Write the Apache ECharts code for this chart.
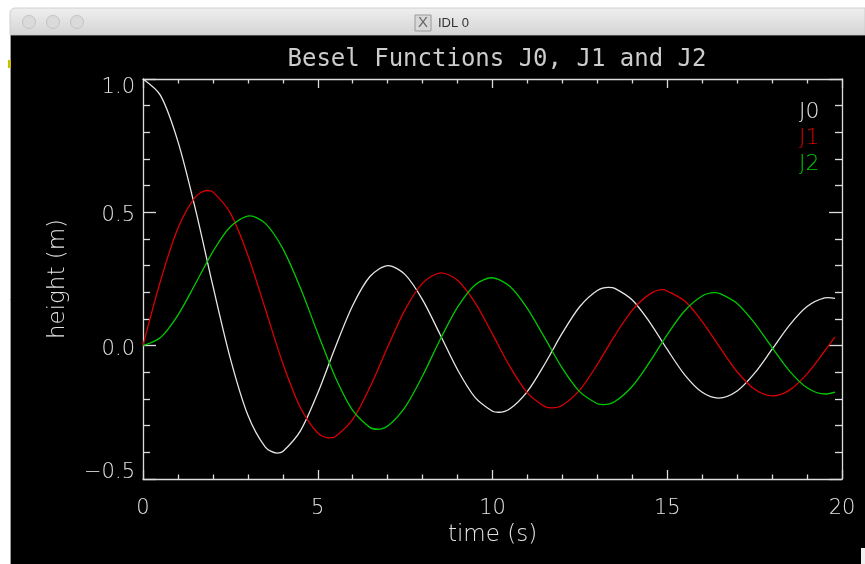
<!DOCTYPE html>
<html>
<head>
<meta charset="utf-8">
<script src="https://cdn.jsdelivr.net/npm/echarts@6/dist/echarts.min.js"></script>
<style>
  html, body { margin: 0; padding: 0; background: #ffffff; }
  #chart { width: 865px; height: 564px; }
</style>
</head>
<body>
<div id="chart"></div>
<script>
// ---- data ----
var times = [0, 0.5, 1, 1.5, 2, 2.5, 3, 3.5, 4, 4.5, 5, 5.5, 6, 6.5, 7, 7.5, 8, 8.5, 9, 9.5,
             10, 10.5, 11, 11.5, 12, 12.5, 13, 13.5, 14, 14.5, 15, 15.5, 16, 16.5, 17, 17.5, 18, 18.5, 19, 19.5, 19.8];
var j0 = [1.0, 0.9385, 0.7652, 0.5118, 0.2239, -0.0484, -0.2601, -0.3801, -0.3971, -0.3205,
          -0.1776, -0.0068, 0.1506, 0.2601, 0.3001, 0.2663, 0.1717, 0.0419, -0.0903, -0.1939,
          -0.2459, -0.2366, -0.1712, -0.0677, 0.0477, 0.1469, 0.2069, 0.2150, 0.1711, 0.0875,
          -0.0142, -0.1092, -0.1749, -0.1964, -0.1699, -0.1032, -0.0134, 0.0772, 0.1466, 0.1789, 0.1771];
var j1 = [0.0, 0.2423, 0.4401, 0.5579, 0.5767, 0.4971, 0.3391, 0.1374, -0.0660, -0.2311,
          -0.3276, -0.3414, -0.2767, -0.1538, -0.0047, 0.1352, 0.2346, 0.2731, 0.2453, 0.1613,
          0.0435, -0.0789, -0.1768, -0.2284, -0.2234, -0.1655, -0.0703, 0.0380, 0.1334, 0.1934,
          0.2051, 0.1672, 0.0904, -0.0058, -0.0977, -0.1634, -0.1880, -0.1666, -0.1057, -0.0209, 0.0328];
var j2 = [0.0, 0.0306, 0.1149, 0.2321, 0.3528, 0.4461, 0.4861, 0.4586, 0.3641, 0.2178,
          0.0466, -0.1173, -0.2429, -0.3074, -0.3014, -0.2302, -0.1130, 0.0224, 0.1448, 0.2279,
          0.2546, 0.2216, 0.1390, 0.0280, -0.0849, -0.1734, -0.2177, -0.2094, -0.1520, -0.0608,
          0.0416, 0.1308, 0.1862, 0.1957, 0.1584, 0.0845, -0.0075, -0.0952, -0.1577, -0.1810, -0.1738];
// turning points (peaks / troughs) of each curve
var j0PeakT = [3.8317, 7.0156, 10.1735, 13.3237, 16.4706, 19.6159];
var j0PeakV = [-0.4028, 0.3001, -0.2497, 0.2184, -0.1965, 0.1801];
var j1PeakT = [1.8412, 5.3314, 8.5363, 11.7060, 14.8636, 18.0155];
var j1PeakV = [0.5819, -0.3461, 0.2733, -0.2333, 0.2101, -0.1880];
var j2PeakT = [3.0542, 6.7061, 9.9695, 13.1704, 16.3475, 19.5129];
var j2PeakV = [0.4865, -0.3135, 0.2547, -0.2209, 0.1990, -0.1813];

var seriesNames = ['J0', 'J1', 'J2'];
var xTickValues = [0, 5, 10, 15, 20];
var xTickLabels = ['0', '5', '10', '15', '20'];
var yTickValues = [-0.5, 0, 0.5, 1.0];
var yTickLabels = ['\u22120.5', '0.0', '0.5', '1.0'];
var titleText = 'Besel Functions J0, J1 and J2';
var xName = 'time (s)';
var yName = 'height (m)';
var windowTitle = 'IDL 0';

// ---- styling ----
var FONT = 'DejaVu Sans';
var AXIS_COLOR = '#dcdcdc';
var TEXT_COLOR = '#e2e2e2';
var colors = ['#e6e6e6', '#d80000', '#00c800'];

function buildPoints(vals, pt, pv) {
  var pts = [];
  for (var i = 0; i < times.length; i++) {
    var near = false;
    for (var k = 0; k < pt.length; k++) if (Math.abs(pt[k] - times[i]) < 0.06) near = true;
    if (!near) pts.push([times[i], vals[i]]);
  }
  for (var k2 = 0; k2 < pt.length; k2++) pts.push([pt[k2], pv[k2]]);
  pts.sort(function (a, b) { return a[0] - b[0]; });
  return pts;
}
function lookup(vals, labels) {
  return function (v) {
    for (var i = 0; i < vals.length; i++) {
      if (Math.abs(vals[i] - v) < 1e-9) return labels[i];
    }
    return '';
  };
}
var yLabelOf = lookup(yTickValues, yTickLabels);
function yLabelFormatter(v) {
  var s = yLabelOf(v);
  if (!s) return '';
  if (Math.abs(v - 1.0) < 1e-9) return '{hi|' + s + '}';
  if (Math.abs(v + 0.5) < 1e-9) return '{lo|' + s + '}';
  return '{mid|' + s + '}';
}

var chart = echarts.init(document.getElementById('chart'), null, { renderer: 'canvas' });

function baseX(pos, showLabel) {
  return {
    type: 'value', position: pos, min: 0, max: 20, interval: 5,
    axisLine: { show: true, onZero: false, lineStyle: { color: AXIS_COLOR, width: 1.3 } },
    axisTick: { show: true, inside: true, length: 9, lineStyle: { color: AXIS_COLOR, width: 1.3 } },
    minorTick: { show: true, splitNumber: 5, length: 4.5, lineStyle: { color: AXIS_COLOR, width: 1.3 } },
    splitLine: { show: false },
    axisLabel: {
      show: showLabel, margin: 19, color: TEXT_COLOR, fontFamily: FONT, fontSize: 21, fontWeight: 200,
      formatter: lookup(xTickValues, xTickLabels)
    }
  };
}
function baseY(pos, showLabel) {
  var rs = { color: TEXT_COLOR, fontFamily: FONT, fontSize: 21, fontWeight: 200 };
  return {
    type: 'value', position: pos, min: -0.5, max: 1.0, interval: 0.5,
    axisLine: { show: true, onZero: false, lineStyle: { color: AXIS_COLOR, width: 1.3 } },
    axisTick: { show: true, inside: true, length: 13, lineStyle: { color: AXIS_COLOR, width: 1.3 } },
    minorTick: { show: true, splitNumber: 5, length: 7, lineStyle: { color: AXIS_COLOR, width: 1.3 } },
    splitLine: { show: false },
    axisLabel: {
      show: showLabel, margin: 8, color: TEXT_COLOR, fontFamily: FONT, fontSize: 21, fontWeight: 200,
      formatter: yLabelFormatter,
      rich: {
        hi: Object.assign({ padding: [17, 0, 0, 0] }, rs),
        mid: Object.assign({ padding: [7, 0, 0, 0] }, rs),
        lo: Object.assign({ padding: [0, 0, 13, 0] }, rs)
      }
    }
  };
}

var xBottom = baseX('bottom', true);
xBottom.name = xName;
xBottom.nameLocation = 'middle';
xBottom.nameGap = 43;
xBottom.nameTextStyle = { color: TEXT_COLOR, fontFamily: FONT, fontSize: 23, fontWeight: 200 };
var yLeft = baseY('left', true);
yLeft.name = yName;
yLeft.nameLocation = 'middle';
yLeft.nameGap = 73;
yLeft.nameTextStyle = { color: TEXT_COLOR, fontFamily: FONT, fontSize: 23, fontWeight: 200 };

var option = {
  backgroundColor: '#ffffff',
  animation: false,
  title: {
    text: titleText, left: 492, top: 43, textAlign: 'center',
    textStyle: { color: '#cccccc', fontFamily: 'DejaVu Sans Mono', fontSize: 24, fontWeight: 'normal' }
  },
  legend: {
    orient: 'vertical', left: 789, top: 96, itemWidth: 0, itemHeight: 22, itemGap: 4,
    selectedMode: false, icon: 'rect',
    textStyle: { fontFamily: FONT, fontSize: 22, fontWeight: 200 },
    data: seriesNames.map(function (n, i) { return { name: n, textStyle: { color: colors[i] } }; })
  },
  grid: { left: 143, right: 23, top: 79, bottom: 85, containLabel: false },
  xAxis: [xBottom, baseX('top', false)],
  yAxis: [yLeft, baseY('right', false)],
  graphic: [
    { type: 'rect', shape: { x: 10, y: 35, width: 855, height: 529 }, style: { fill: '#000000' }, z: -10 },
    { type: 'line', shape: { x1: 10.5, y1: 35, x2: 10.5, y2: 564 }, style: { stroke: '#9a9a9a', lineWidth: 1 }, z: -9 },
    { type: 'rect', shape: { x: 8, y: 60, width: 3, height: 8 }, style: { fill: '#c8c000' }, z: -9 },
    { type: 'rect', shape: { x: 10, y: 8, width: 855, height: 27, r: [5, 0, 0, 0] },
      style: { fill: new echarts.graphic.LinearGradient(0, 0, 0, 1, [
        { offset: 0, color: '#efefef' }, { offset: 1, color: '#d4d4d4' }]), stroke: '#c8c8c8', lineWidth: 0.8 }, z: -9 },
    { type: 'circle', shape: { cx: 29, cy: 22, r: 6.5 }, style: { fill: '#dadada', stroke: '#c4c4c4', lineWidth: 1 }, z: -8 },
    { type: 'circle', shape: { cx: 53, cy: 22, r: 6.5 }, style: { fill: '#dadada', stroke: '#c4c4c4', lineWidth: 1 }, z: -8 },
    { type: 'circle', shape: { cx: 77, cy: 22, r: 6.5 }, style: { fill: '#dadada', stroke: '#c4c4c4', lineWidth: 1 }, z: -8 },
    { type: 'rect', shape: { x: 415, y: 15, width: 16, height: 16 }, style: { fill: '#d8d8d8', stroke: '#9a9a9a', lineWidth: 1 }, z: -8 },
    { type: 'text', x: 423, y: 23, style: { text: 'X', fill: '#666666', font: '15px "Liberation Sans"', align: 'center', verticalAlign: 'middle' }, z: -7 },
    { type: 'text', x: 438, y: 23, style: { text: windowTitle, fill: '#333333', font: '13px "Liberation Sans"', verticalAlign: 'middle' }, z: -7 },
    { type: 'rect', shape: { x: 861, y: 548, width: 4, height: 16 }, style: { fill: '#f0f0f0' }, z: -8 }
  ],
  series: seriesNames.map(function (n, i) {
    var vals = [j0, j1, j2][i];
    var pt = [j0PeakT, j1PeakT, j2PeakT][i];
    var pv = [j0PeakV, j1PeakV, j2PeakV][i];
    return {
      name: n, type: 'line', data: buildPoints(vals, pt, pv), smooth: 0.3,
      showSymbol: false, symbol: 'none', clip: true,
      lineStyle: { color: colors[i], width: 1.3 }, itemStyle: { color: colors[i] }
    };
  })
};
chart.setOption(option);
</script>
</body>
</html>
